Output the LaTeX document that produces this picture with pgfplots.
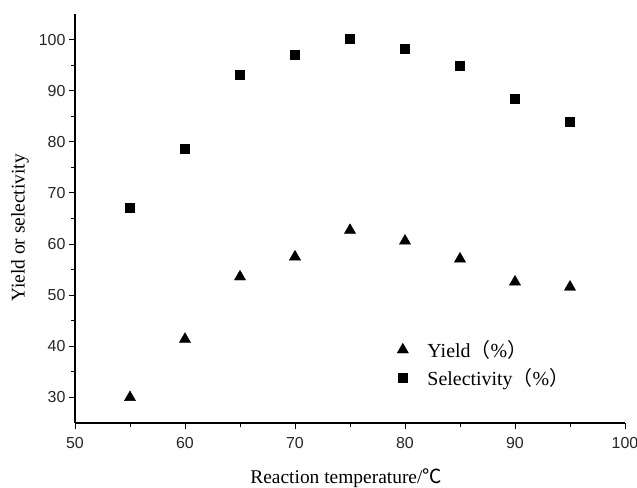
\documentclass[border=0pt]{standalone}
\usepackage{fontspec}
\setmainfont{Liberation Serif}
\setsansfont{Liberation Sans}
\newfontfamily\cjk{Noto Sans CJK SC}
\usepackage{pgfplots}
\pgfplotsset{compat=1.18}

\begin{document}
\begin{tikzpicture}
\begin{axis}[
  scale only axis,
  width=550bp, height=409bp,
  xmin=50, xmax=100, ymin=25, ymax=105,
  axis lines*=left,
  axis line style={-, line width=1.1pt},
  xtick={50,60,...,100},
  ytick={30,40,...,100},
  minor x tick num=1,
  minor y tick num=1,
  tick align=outside,
  major tick length=6bp,
  minor tick length=4bp,
  tick style={line width=1pt, black},
  /pgf/number format/assume math mode=true,
  tick label style={font=\sffamily\fontsize{16}{18}\selectfont, text=black!85},
  xticklabel style={yshift=-5bp},
  xlabel={Reaction temperature/{\cjk ℃}},
  ylabel={Yield or selectivity},
  label style={font=\fontsize{19.5}{22}\selectfont},
  xlabel style={at={(axis description cs:0.493,-0.134)}, anchor=center},
  ylabel style={at={(axis description cs:-0.1,0.477)}, anchor=center},
  legend style={draw=none, fill=none, font=\fontsize{20}{23}\selectfont,
    at={(axis description cs:0.58,0.212)}, anchor=north west,
    row sep=5bp,
    /tikz/every odd column/.append style={column sep=17bp}},
  legend cell align=left,
]
\addplot[only marks, mark=triangle*, mark size=6.5bp, black]
  coordinates {(55,30.0)(60,41.4)(65,53.6)(70,57.5)(75,62.7)(80,60.6)(85,57.1)(90,52.6)(95,51.6)};
\addplot[only marks, mark=square*, mark size=4.5bp, black]
  coordinates {(55,67.1)(60,78.6)(65,93.1)(70,97.1)(75,100.1)(80,98.3)(85,94.8)(90,88.5)(95,84.0)};
\legend{Yield{\cjk （}\%{\cjk ）}, Selectivity{\cjk （}\%{\cjk ）}}
\end{axis}
\pgfresetboundingbox
\useasboundingbox (-75bp,-65bp) rectangle (562bp,423bp);
\end{tikzpicture}
\end{document}
